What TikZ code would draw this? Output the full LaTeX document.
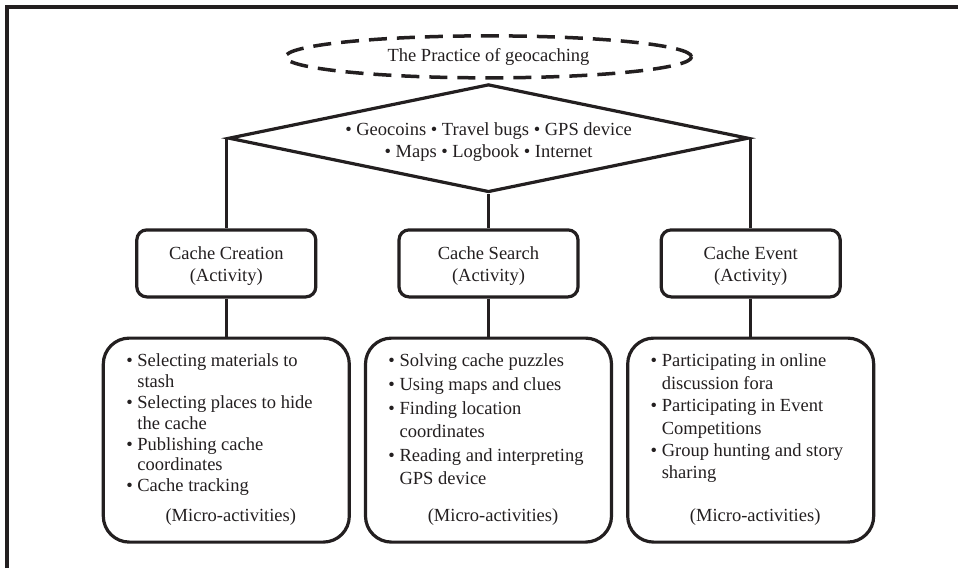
\documentclass[tikz,border=0pt]{standalone}
\usepackage{fontspec}
\setmainfont{Liberation Serif}
\usetikzlibrary{shapes,positioning}
\definecolor{ink}{RGB}{35,31,32}
\newcommand*{\bl}{\textbullet\ }
\newcommand*{\ind}{\hphantom{\textbullet\ }}
\newcommand*{\lift}{\rule{0pt}{19pt}}

\begin{document}
\begin{tikzpicture}[x=1pt,y=-1pt,
    font=\fontsize{18.5}{22}\selectfont, text=ink,
    block_title/.style ={ellipse, draw=ink, line width=3.5pt,
      dash pattern=on 18pt off 10pt, minimum width=406pt,
      minimum height=42pt, inner sep=0pt},
    block_tools/.style ={diamond, draw=ink, line width=3.2pt, aspect=4.86,
      inner sep=0pt, minimum width=520pt, minimum height=108pt,
      text height=39pt, text depth=1pt, align=center},
    block_activity/.style ={rectangle, rounded corners=10pt, draw=ink,
      line width=3.2pt, fill=white, minimum width=179pt,
      minimum height=67pt, align=center},
    block_micro/.style ={rectangle, rounded corners=26pt, draw=ink,
      line width=3.2pt, fill=white, inner xsep=23pt, inner ysep=16pt},
    line/.style ={draw=ink, line width=3pt}]
    \useasboundingbox (0,0) rectangle (958,568);
    % frame
    \draw [ink, line width=3.2pt] (7,568) -- (7,7) -- (958,7);
    % outlining the activities using the matrix
    \matrix (acts) [column sep=13pt,row sep=38pt] at (488.5,386) {
      % row 1
      \node [block_activity] (creation) {\lift Cache Creation\\(Activity)}; &
      \node [block_activity] (search) {\lift Cache Search\\(Activity)}; &
      \node [block_activity] (event) {\lift Cache Event\\(Activity)}; \\
      % row 2
      \node [block_micro] (creation_micro) {\parbox[c][172pt][t]{200pt}{%
        \fontsize{18.5}{20.8}\selectfont\raggedright
        \bl Selecting materials to\\ \ind stash\\
        \bl Selecting places to hide\\ \ind the cache\\
        \bl Publishing cache\\ \ind coordinates\\
        \bl Cache tracking\par\vfill
        \centering\hspace*{9pt}(Micro-activities)\par\vspace{1pt}}}; &
      \node [block_micro] (search_micro) {\parbox[c][172pt][t]{200pt}{%
        \fontsize{18.5}{23.6}\selectfont\raggedright
        \bl Solving cache puzzles\\
        \bl Using maps and clues\\
        \bl Finding location\\ \ind coordinates\\
        \bl Reading and interpreting\\ \ind GPS device\par\vfill
        \centering\hspace*{9pt}(Micro-activities)\par\vspace{1pt}}}; &
      \node [block_micro] (event_micro) {\parbox[c][172pt][t]{200pt}{%
        \fontsize{18.5}{22.4}\selectfont\raggedright
        \bl Participating in online\\ \ind discussion fora\\
        \bl Participating in Event\\ \ind Competitions\\
        \bl Group hunting and story\\ \ind sharing\par\vfill
        \centering\hspace*{9pt}(Micro-activities)\par\vspace{1pt}}}; \\
    };
    % end matrix
    \node [block_tools, above=34.5pt of search] (tools)
      {\bl Geocoins \bl Travel bugs \bl GPS device\\
       \bl Maps \bl Logbook \bl Internet};
    \node [block_title, above=3pt of tools] (practice) {The Practice of geocaching};
    % connecting nodes with paths
    \begin{scope}[every path/.style=line]
     \path (tools.west) -- (tools.west |- creation.north);
     \path (tools.south) -- (search.north);
     \path (tools.east) -- (tools.east |- event.north);
     \path (creation) -- (creation_micro);
     \path (search) -- (search_micro);
     \path (event) -- (event_micro);
    \end{scope}
\end{tikzpicture}
\end{document}
